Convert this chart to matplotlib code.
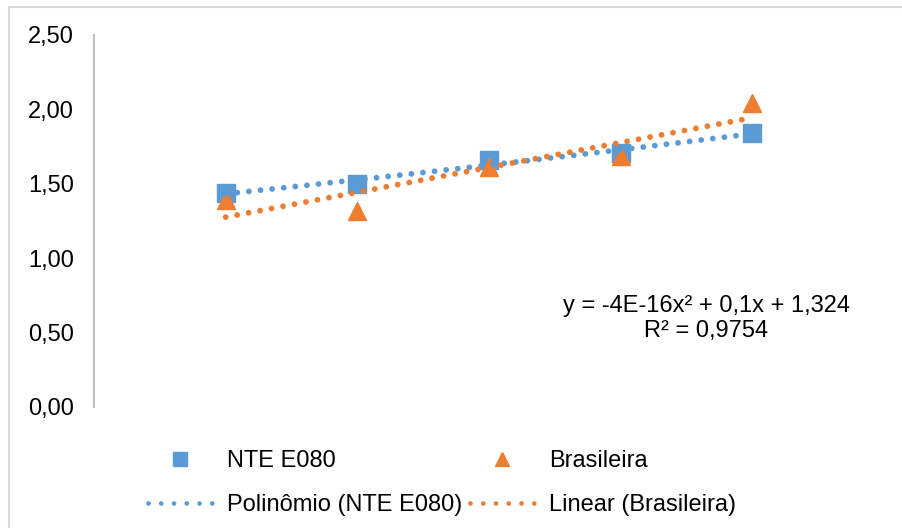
import matplotlib
matplotlib.use("Agg")
import matplotlib.pyplot as plt
import numpy as np
from matplotlib.lines import Line2D
from matplotlib.patches import Rectangle

plt.rcParams['font.family'] = ['Liberation Sans', 'DejaVu Sans']

x_vals = [1, 2, 3, 4, 5]
nte_e080 = [1.44, 1.50, 1.66, 1.71, 1.84]
brasileira = [1.39, 1.32, 1.61, 1.69, 2.04]
y_ticks = [0.0, 0.5, 1.0, 1.5, 2.0, 2.5]
y_tick_labels = ["0,00", "0,50", "1,00", "1,50", "2,00", "2,50"]
series_names = ["NTE E080", "Brasileira"]
trend_names = ["Polinômio (NTE E080)", "Linear (Brasileira)"]
equation_text = "y = -4E-16x² + 0,1x + 1,324\nR² = 0,9754"

blue = "#5B9BD5"
orange = "#ED7D31"

fig = plt.figure(figsize=(9.03, 5.28), dpi=100)
ax = fig.add_axes([94/903, 1-407/528, (884-94)/903, (407-35)/528])

# chart border (top and left visible)
fig.patches.append(Rectangle((9/903, -0.1), 1.2, 1-7/528+0.1, transform=fig.transFigure,
                             fill=False, edgecolor="#D9D9D9", linewidth=1.5))

x = np.array(x_vals, dtype=float)
ax.plot(x, nte_e080, linestyle='none', marker='s', markersize=12.5,
        color=blue, zorder=3)
ax.plot(x, brasileira, linestyle='none', marker='^', markersize=13,
        color=orange, zorder=4)

xs = np.linspace(1, 5, 200)
p2 = np.polyfit(x, nte_e080, 2)
p1 = np.polyfit(x, brasileira, 1)
dot_style = (0, (0.001, 2.0))
ax.plot(xs, np.polyval(p2, xs), color=blue, lw=4.2, linestyle=dot_style,
        dash_capstyle='round', zorder=5)
ax.plot(xs, np.polyval(p1, xs), color=orange, lw=4.2, linestyle=dot_style,
        dash_capstyle='round', zorder=5)

ax.text(4.65, 0.595, equation_text, ha='center', va='center', fontsize=17,
        linespacing=1.15, color='black')

ax.set_xlim(0, 6)
ax.set_ylim(0, 2.5)
ax.set_yticks(y_ticks)
ax.set_yticklabels(y_tick_labels)
ax.set_xticks([])
ax.tick_params(axis='y', length=0, pad=14.5, labelsize=17, labelcolor='black')
for s in ['top', 'right', 'bottom']:
    ax.spines[s].set_visible(False)
ax.spines['left'].set_color('#BFBFBF')
ax.spines['left'].set_linewidth(1.5)

handles = [
    Line2D([], [], linestyle='none', marker='s', markersize=9.5, color=blue),
    Line2D([], [], color=blue, lw=3.4, linestyle=(0, (0.001, 2.7)), dash_capstyle='round'),
    Line2D([], [], linestyle='none', marker='^', markersize=10, color=orange),
    Line2D([], [], color=orange, lw=3.4, linestyle=(0, (0.001, 2.7)), dash_capstyle='round'),
]
labels = [series_names[0], trend_names[0], series_names[1], trend_names[1]]
fig.legend(handles, labels, ncol=2, loc='center',
           bbox_to_anchor=(442/903, 1-483/528), frameon=False, fontsize=17,
           handlelength=2.7, handletextpad=0.64, columnspacing=0.34,
           labelspacing=0.95, borderpad=0)

fig.savefig("out.png", dpi=100)
